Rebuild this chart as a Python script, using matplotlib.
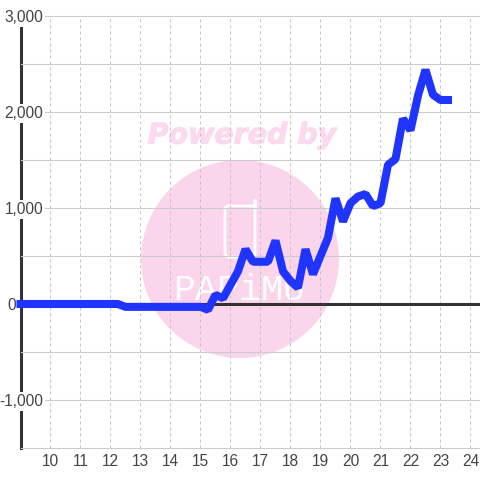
# -*- coding: utf-8 -*-
import numpy as np
import matplotlib
matplotlib.use('Agg')
import matplotlib.pyplot as plt
from matplotlib.patches import Circle, FancyBboxPatch
from matplotlib.transforms import Affine2D
import matplotlib.patheffects as pe

hours = [9, 9.25, 9.5, 9.75, 10, 10.25, 10.5, 10.75, 11, 11.25, 11.5, 11.75, 12, 12.25, 12.5, 12.75,
         13, 13.25, 13.5, 13.75, 14, 14.25, 14.5, 14.75, 15, 15.25, 15.5, 15.75, 16, 16.25, 16.5, 16.75,
         17, 17.25, 17.5, 17.75, 18, 18.25, 18.5, 18.75, 19, 19.25, 19.5, 19.75, 20, 20.25, 20.5, 20.75,
         21, 21.25, 21.5, 21.75, 22, 22.25, 22.5, 22.75, 23, 23.25]
values = [0, 0, 0, 0, 0, 0, 0, 0, 0, 0, 0, 0, 0, 0, -30, -30,
          -30, -30, -30, -30, -30, -30, -30, -30, -30, -60, 95, 60, 200, 340, 570, 440,
          440, 440, 660, 340, 240, 170, 570, 310, 500, 690, 1100, 860, 1050, 1120, 1145, 1020,
          1050, 1450, 1510, 1930, 1810, 2170, 2440, 2180, 2125, 2125]

x_ticks = [10, 11, 12, 13, 14, 15, 16, 17, 18, 19, 20, 21, 22, 23, 24]
y_major = [-1000, 0, 1000, 2000, 3000]
y_labels = ['-1,000', '', '1,000', '2,000', '3,000']
y_minor = [-1500, -500, 500, 1500, 2500]

plt.rcParams['font.family'] = ['Liberation Sans', 'DejaVu Sans']

fig = plt.figure(figsize=(4.8, 4.8), dpi=100)
ax = fig.add_axes([20.5/480, 32/480, 459.5/480, 432/480])
ax.set_xlim(9, 24.317)
ax.set_ylim(-1500, 3000)
ax.patch.set_alpha(0)

for s in ['top', 'right', 'bottom']:
    ax.spines[s].set_visible(False)
ax.spines['left'].set_linewidth(2.2)
ax.spines['left'].set_color('#333333')
ax.spines['left'].set_zorder(0.4)  # tick label boxes cut the axis line

ax.set_xticks(x_ticks)
ax.set_yticks(y_major)
ax.set_yticklabels(y_labels)
ax.set_yticks(y_minor, minor=True)
ax.tick_params(axis='both', which='both', length=0)
ax.tick_params(axis='x', labelsize=11.2, labelcolor='#444444', pad=4.5)
ax.tick_params(axis='y', labelsize=11.2, labelcolor='#444444', pad=-16.5)
for lab in ax.get_yticklabels():
    if lab.get_text():
        lab.set_bbox(dict(facecolor='white', edgecolor='none', pad=1.5))
ax.annotate('0', xy=(9, 0), xytext=(-3.3, -1), textcoords='offset points', ha='right', va='center',
            fontsize=11.2, color='#444444', annotation_clip=False)

ax.grid(True, axis='y', which='both', color='#cccccc', lw=0.8)
ax.grid(True, axis='x', which='major', color='#c4c4c4', lw=0.72, ls=(0, (3, 3)))
ax.set_axisbelow(True)
for t in ax.yaxis.get_major_ticks() + ax.yaxis.get_minor_ticks():
    t.gridline.set_clip_on(False)

# watermark, laid out in image pixels
px = Affine2D().scale(1/480, -1/480).translate(0, 1) + fig.transFigure
fig.add_artist(Circle((240, 259), 99, transform=px, facecolor='#fbd5ec', edgecolor='none', zorder=-5))
fig.add_artist(FancyBboxPatch((227, 208), 26, 47, boxstyle='round,pad=2,rounding_size=4', transform=px,
                              facecolor='none', edgecolor='white', lw=2, zorder=-4))
fig.add_artist(plt.Line2D([254.5, 254.5], [201, 208], transform=px, color='white', lw=2.6,
                          solid_capstyle='round', zorder=-4))
fig.text(242/480, 1-135.5/480, 'Powered by', ha='center', va='center', fontsize=20.5,
         fontweight='bold', fontstyle='italic', color='#fcd9ee', family='DejaVu Sans', zorder=-4,
         path_effects=[pe.withStroke(linewidth=0.8, foreground='#fcd9ee')])
fig.text(239/480, 1-290/480, 'PAPiMU', ha='center', va='center', fontsize=26.5,
         color='white', family='Liberation Mono', zorder=-4)

ax.axhline(0, color='#333333', lw=2.2, zorder=2)
ax.plot(hours, values, color='#1f35ff', lw=5.8, solid_capstyle='projecting',
        solid_joinstyle='bevel', clip_on=False, zorder=4)

fig.savefig('out.png', dpi=100, facecolor='white')
